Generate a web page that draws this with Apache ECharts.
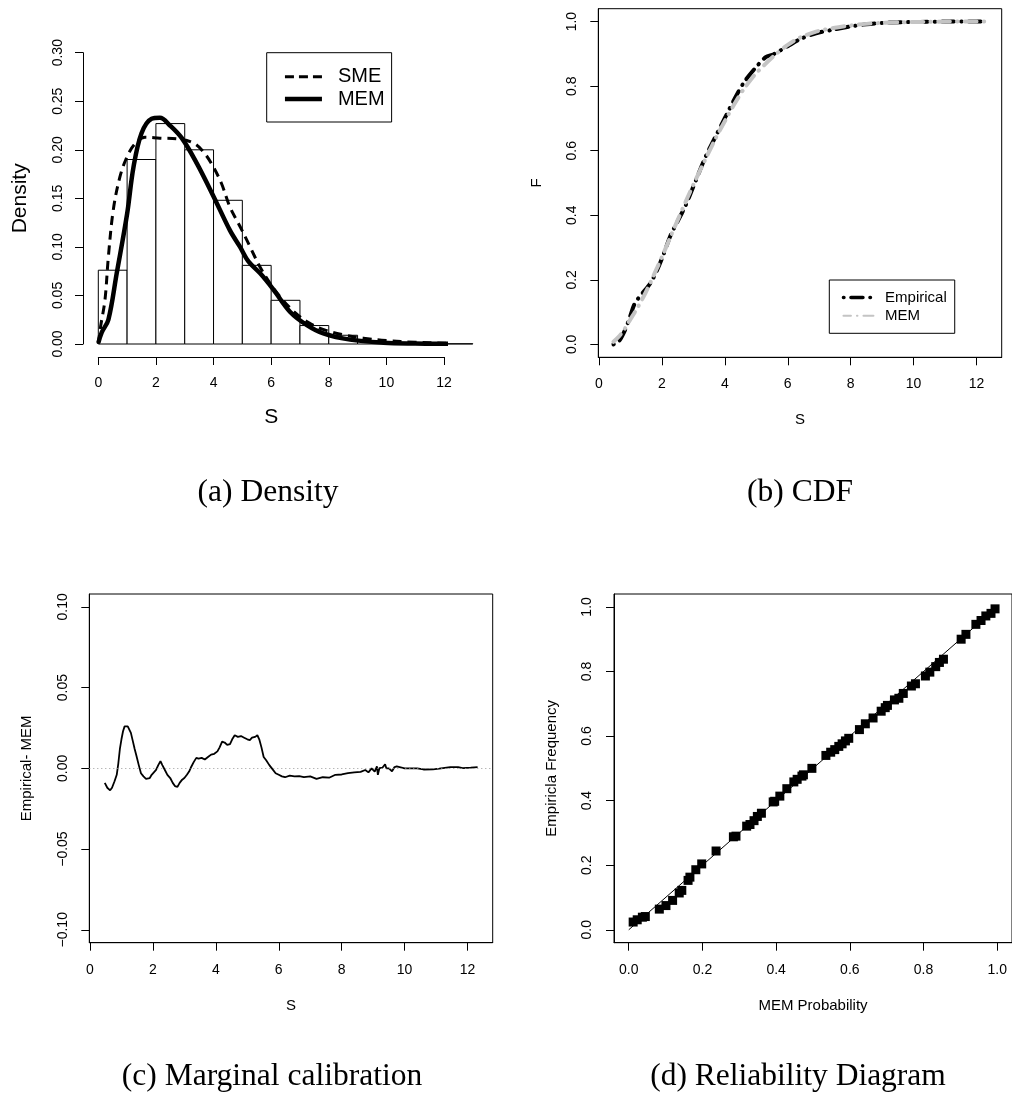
<!DOCTYPE html>
<html><head><meta charset="utf-8">
<script src="https://cdn.jsdelivr.net/npm/echarts@6/dist/echarts.min.js"></script>
<style>html,body{margin:0;padding:0;background:#fff}#c{width:1012px;height:1095px}</style>
</head><body><div id="c"></div>
<script>
// ---------- Panel (a) Density ----------
const histBreaks = [0,1,2,3,4,5,6,7,8,9,10,11,12,13];
const histDensity = [0.076,0.190,0.227,0.200,0.148,0.081,0.045,0.019,0.009,0.003,0.001,0.0005,0.0003];
const smeX = [0,0.08,0.23,0.35,0.52,0.75,1.0,1.27,1.62,2.14,2.84,3.36,3.7,4.0,4.28,4.57,4.92,5.27,5.6,5.95,6.3,6.8,7.3,7.8,8.5,9.2,10,11,12,13.5];
const smeY = [0,0.018,0.045,0.09,0.138,0.172,0.193,0.206,0.213,0.212,0.211,0.206,0.196,0.182,0.165,0.141,0.121,0.1,0.08,0.063,0.049,0.033,0.022,0.015,0.0095,0.006,0.0035,0.0018,0.0009,0.0003];
const memDX = [0,0.12,0.35,0.64,1.0,1.22,1.5,1.85,2.14,2.49,2.9,3.42,4.0,4.57,4.92,5.21,5.61,6.08,6.66,7.24,7.81,8.74,9.9,11,12,13.5];
const memDY = [0.001,0.012,0.025,0.073,0.134,0.182,0.217,0.232,0.233,0.225,0.212,0.186,0.152,0.117,0.1,0.085,0.073,0.056,0.033,0.0195,0.011,0.0045,0.0014,0.0005,0.0002,0];
const ticksAx = [0,2,4,6,8,10,12];
const ticksAy = [0,0.05,0.10,0.15,0.20,0.25,0.30];

// ---------- Panel (b) CDF ----------
const cdfX = [0.46,0.64,0.83,1.0,1.11,1.25,1.48,1.65,1.86,2.04,2.28,2.5,2.76,3.0,3.39,3.7,4.03,4.3,4.61,4.95,5.3,5.55,6.0,6.4,6.9,7.45,8.0,8.5,9.0,9.6,10.2,11.0,11.8,12.32];
const cdfMEM = [0.008,0.025,0.05,0.078,0.095,0.118,0.16,0.195,0.24,0.28,0.335,0.385,0.443,0.495,0.575,0.637,0.697,0.744,0.792,0.835,0.87,0.893,0.928,0.951,0.969,0.98,0.988,0.993,0.996,0.998,0.999,1.0,1.0,1.0];
const cdfEmp = [0.0,0.011,0.045,0.09,0.121,0.143,0.17,0.192,0.233,0.276,0.339,0.381,0.432,0.489,0.582,0.643,0.707,0.759,0.812,0.854,0.89,0.899,0.924,0.946,0.964,0.975,0.985,0.992,0.996,0.998,0.999,1.0,1.0,1.0];
const ticksBx = [0,2,4,6,8,10,12];
const ticksBy = [0,0.2,0.4,0.6,0.8,1.0];

// ---------- Panel (c) Marginal calibration ----------
const diffX = [0.47,0.55,0.64,0.7,0.78,0.85,0.9,0.95,1.0,1.05,1.1,1.15,1.2,1.25,1.3,1.36,1.42,1.48,1.55,1.62,1.7,1.78,1.84,1.9,1.96,2.02,2.1,2.17,2.24,2.3,2.38,2.46,2.55,2.63,2.7,2.78,2.85,2.93,3.0,3.08,3.15,3.22,3.3,3.38,3.45,3.55,3.65,3.75,3.85,3.95,4.05,4.12,4.2,4.28,4.36,4.45,4.52,4.6,4.7,4.8,4.9,5.0,5.08,5.15,5.25,5.32,5.38,5.45,5.52,5.6,5.7,5.8,5.9,6.0,6.1,6.2,6.35,6.5,6.65,6.8,7.0,7.2,7.4,7.6,7.8,8.0,8.2,8.4,8.6,8.75,8.85,8.95,9.05,9.12,9.15,9.2,9.3,9.38,9.42,9.5,9.6,9.68,9.75,10.0,10.4,10.6,10.9,11.1,11.45,11.7,11.85,12.1,12.32];
const diffY = [-0.009,-0.012,-0.0136,-0.012,-0.008,-0.004,0.003,0.012,0.018,0.023,0.026,0.027,0.026,0.025,0.022,0.017,0.012,0.0075,0.002,-0.003,-0.005,-0.0065,-0.0075,-0.006,-0.004,-0.003,-0.001,0.002,0.0045,0.002,-0.001,-0.004,-0.006,-0.009,-0.011,-0.0115,-0.009,-0.007,-0.006,-0.004,-0.002,0.001,0.004,0.0065,0.006,0.0065,0.0055,0.007,0.0085,0.009,0.0105,0.013,0.0165,0.016,0.0145,0.015,0.018,0.0205,0.0195,0.020,0.019,0.018,0.0175,0.019,0.0195,0.0205,0.018,0.013,0.007,0.005,0.002,-0.0005,-0.003,-0.004,-0.005,-0.0055,-0.0045,-0.005,-0.0048,-0.0055,-0.005,-0.0065,-0.0055,-0.0058,-0.004,-0.0038,-0.003,-0.0025,-0.0022,-0.001,-0.0025,0.0,-0.002,0.0012,-0.004,0.0002,0.0005,0.0025,0.0,0.0,-0.0018,0.0008,0.0012,0.0,0.0,-0.0007,-0.0006,-0.0002,0.0007,0.0008,0.0002,0.0004,0.0007];
const ticksCx = [0,2,4,6,8,10,12];
const ticksCy = [-0.10,-0.05,0,0.05,0.10];

// ---------- Panel (d) Reliability diagram ----------
const relX = [0.012,0.023,0.037,0.045,0.083,0.101,0.119,0.137,0.144,0.161,0.166,0.182,0.198,0.237,0.284,0.291,0.32,0.329,0.34,0.349,0.36,0.392,0.396,0.41,0.429,0.448,0.457,0.47,0.474,0.497,0.535,0.548,0.559,0.57,0.579,0.588,0.597,0.626,0.642,0.663,0.685,0.696,0.702,0.721,0.733,0.745,0.767,0.778,0.805,0.817,0.833,0.843,0.854,0.902,0.915,0.942,0.956,0.969,0.983,0.994];
const relY = [0.024,0.031,0.039,0.041,0.064,0.075,0.091,0.114,0.122,0.153,0.163,0.186,0.204,0.244,0.288,0.29,0.321,0.326,0.338,0.351,0.361,0.396,0.398,0.414,0.437,0.458,0.466,0.476,0.48,0.5,0.54,0.55,0.558,0.568,0.576,0.585,0.593,0.62,0.638,0.656,0.677,0.688,0.695,0.712,0.717,0.732,0.755,0.762,0.786,0.798,0.815,0.828,0.838,0.9,0.915,0.946,0.958,0.972,0.98,0.994];
const diagX = [0,1];
const diagY = [0,1];
const ticksDx = [0,0.2,0.4,0.6,0.8,1.0];
const ticksDy = [0,0.2,0.4,0.6,0.8,1.0];

// ---------- helpers ----------
const FONT = 'Liberation Sans, Arial, Helvetica, sans-serif';
const zip = (xs, ys) => xs.map((x, i) => [x, ys[i]]);
const fmt = d => v => { const s = Math.abs(v).toFixed(d); return (v < -1e-9 ? '\u2212' : '') + s; };

function axis(o) {
  return {
    type: 'value', gridIndex: o.grid, min: o.min, max: o.max,
    offset: o.offset || 0,
    name: o.name, nameLocation: 'middle', nameGap: o.nameGap,
    nameRotate: o.nameRotate,
    nameTextStyle: { fontFamily: FONT, fontSize: o.nameSize || 15, color: '#000' },
    axisLine: { show: true, onZero: false, lineStyle: { color: '#000', width: 1 } },
    axisTick: { show: true, length: 8, customValues: o.ticks, lineStyle: { color: '#000', width: 1 } },
    axisLabel: { show: true, customValues: o.ticks, formatter: o.formatter, rotate: o.rotate || 0,
      margin: o.margin, fontFamily: FONT, fontSize: o.labelSize || 14, color: '#000' },
    splitLine: { show: false }
  };
}

const histData = histDensity.map((h, i) => [histBreaks[i], histBreaks[i + 1], h]);
const noSymbol = { color: 'transparent', borderColor: 'transparent', borderWidth: 0 };

const option = {
  animation: false,
  backgroundColor: '#fff',
  grid: [
    { left: 98.3, top: 52.7, width: 345.7, height: 291.3 },
    { left: 598.3, top: 8.7, width: 403.4, height: 348.6, show: true, borderColor: '#000', borderWidth: 1, backgroundColor: 'transparent' },
    { left: 89.3, top: 594, width: 403.4, height: 348.7, show: true, borderColor: '#000', borderWidth: 1, backgroundColor: 'transparent' },
    { left: 614, top: 594, width: 402.5, height: 348.7, show: true, borderColor: '#000', borderWidth: 1, backgroundColor: 'transparent' }
  ],
  xAxis: [
    axis({ grid: 0, min: 0, max: 12, offset: 13, ticks: ticksAx, formatter: fmt(0), margin: 19,
      name: 'S', nameGap: 50, nameSize: 21 }),
    axis({ grid: 1, min: -0.022, max: 12.8, ticks: ticksBx, formatter: fmt(0), margin: 20, name: 'S', nameGap: 55 }),
    axis({ grid: 2, min: -0.022, max: 12.8, ticks: ticksCx, formatter: fmt(0), margin: 20, name: 'S', nameGap: 56 }),
    axis({ grid: 3, min: -0.04, max: 1.04, ticks: ticksDx, formatter: fmt(1), margin: 20, name: 'MEM Probability', nameGap: 56 })
  ],
  yAxis: [
    axis({ grid: 0, min: 0, max: 0.30, offset: 15.3, ticks: ticksAy, formatter: fmt(2), rotate: 90, margin: 18,
      name: 'Density', nameGap: 52, nameRotate: 90, nameSize: 21 }),
    axis({ grid: 1, min: -0.04, max: 1.04, ticks: ticksBy, formatter: fmt(1), rotate: 90, margin: 19, name: 'F', nameGap: 54, nameRotate: 90 }),
    axis({ grid: 2, min: -0.108, max: 0.108, ticks: ticksCy, formatter: fmt(2), rotate: 90, margin: 19, name: 'Empirical- MEM', nameGap: 55, nameRotate: 90 }),
    axis({ grid: 3, min: -0.04, max: 1.04, ticks: ticksDy, formatter: fmt(1), rotate: 90, margin: 20, name: 'Empiricla Frequency', nameGap: 55, nameRotate: 90 })
  ],
  legend: [
    { data: [
        { name: 'SME', itemStyle: noSymbol, lineStyle: { color: '#000', width: 3, type: [9, 5] } },
        { name: 'MEM_a', itemStyle: noSymbol, lineStyle: { color: '#000', width: 4.5, type: 'solid' } }
      ],
      orient: 'vertical', left: 266.7, top: 52.7, selectedMode: false,
      borderColor: '#000', borderWidth: 1, borderRadius: 0, padding: [14, 7, 13, 16],
      itemWidth: 37, itemHeight: 20, itemGap: 2.3, itemStyle: noSymbol,
      formatter: n => n.split('_')[0],
      textStyle: { fontFamily: FONT, fontSize: 20, color: '#000', padding: [0, 0, 0, 11] } },
    { data: [
        { name: 'Empirical', itemStyle: noSymbol, lineStyle: { color: '#000', width: 3.5, type: [0.5, 7, 12, 7], cap: 'round' } },
        { name: 'MEM_b', itemStyle: noSymbol, lineStyle: { color: '#c4c4c4', width: 2, type: [0.5, 6, 10, 6], cap: 'round' } }
      ],
      orient: 'vertical', left: 829.3, top: 280, selectedMode: false,
      borderColor: '#000', borderWidth: 1, borderRadius: 0, padding: [10, 8, 10, 12.4],
      itemWidth: 30, itemHeight: 15, itemGap: 3.3, itemStyle: noSymbol,
      formatter: n => n.split('_')[0],
      textStyle: { fontFamily: FONT, fontSize: 15, color: '#000', padding: [0, 0, 0, 6.6] } }
  ],
  series: [
    { type: 'custom', name: 'hist', xAxisIndex: 0, yAxisIndex: 0, data: histData, encode: { x: [0, 1], y: 2 },
      renderItem: (params, api) => {
        const p0 = api.coord([api.value(0), api.value(2)]);
        const p1 = api.coord([api.value(1), 0]);
        return { type: 'rect', shape: { x: p0[0], y: p0[1], width: p1[0] - p0[0], height: p1[1] - p0[1] },
          style: { fill: '#fff', stroke: '#000', lineWidth: 1 } };
      } },
    { type: 'line', name: 'SME', xAxisIndex: 0, yAxisIndex: 0, data: zip(smeX, smeY), clip: false,
      symbol: 'none', smooth: 0.35, lineStyle: { color: '#000', width: 3, type: [9, 6] }, itemStyle: { color: '#000' } },
    { type: 'line', name: 'MEM_a', xAxisIndex: 0, yAxisIndex: 0, data: zip(memDX, memDY), clip: false,
      symbol: 'none', smooth: 0.35, lineStyle: { color: '#000', width: 4.5 }, itemStyle: { color: '#000' } },

    { type: 'line', name: 'Empirical', xAxisIndex: 1, yAxisIndex: 1, data: zip(cdfX, cdfEmp),
      symbol: 'none', smooth: 0.3, lineStyle: { color: '#000', width: 4, type: [0.5, 7, 12, 7], cap: 'round' }, itemStyle: { color: '#000' } },
    { type: 'line', name: 'MEM_b', xAxisIndex: 1, yAxisIndex: 1, data: zip(cdfX, cdfMEM),
      symbol: 'none', smooth: 0.3, lineStyle: { color: '#c4c4c4', width: 4, type: [0.5, 7, 12, 7], cap: 'round', dashOffset: 9 }, itemStyle: { color: '#c4c4c4' } },

    { type: 'line', name: 'diff', xAxisIndex: 2, yAxisIndex: 2, data: zip(diffX, diffY),
      symbol: 'none', lineStyle: { color: '#000', width: 1.8 },
      markLine: { silent: true, symbol: 'none', label: { show: false },
        lineStyle: { color: '#999', type: [1, 3], width: 1 }, data: [{ yAxis: 0 }] } },

    { type: 'line', name: 'diag', xAxisIndex: 3, yAxisIndex: 3, data: zip(diagX, diagY),
      symbol: 'none', lineStyle: { color: '#000', width: 1 } },
    { type: 'scatter', name: 'rel', xAxisIndex: 3, yAxisIndex: 3, data: zip(relX, relY),
      symbol: 'rect', symbolSize: 9, itemStyle: { color: '#000', opacity: 1 } }
  ],
  graphic: [
    { type: 'text', style: { text: '(a) Density', x: 268, y: 493, textAlign: 'center', textVerticalAlign: 'middle', font: '31.5px "Liberation Serif", "Times New Roman", serif', fill: '#000' } },
    { type: 'text', style: { text: '(b) CDF', x: 800, y: 493, textAlign: 'center', textVerticalAlign: 'middle', font: '31.5px "Liberation Serif", "Times New Roman", serif', fill: '#000' } },
    { type: 'text', style: { text: '(c) Marginal calibration', x: 272, y: 1077, textAlign: 'center', textVerticalAlign: 'middle', font: '31.5px "Liberation Serif", "Times New Roman", serif', fill: '#000' } },
    { type: 'text', style: { text: '(d) Reliability Diagram', x: 798, y: 1077, textAlign: 'center', textVerticalAlign: 'middle', font: '31.5px "Liberation Serif", "Times New Roman", serif', fill: '#000' } }
  ]
};

const chart = echarts.init(document.getElementById('c'), null, { renderer: 'canvas' });
chart.setOption(option);
</script></body></html>
